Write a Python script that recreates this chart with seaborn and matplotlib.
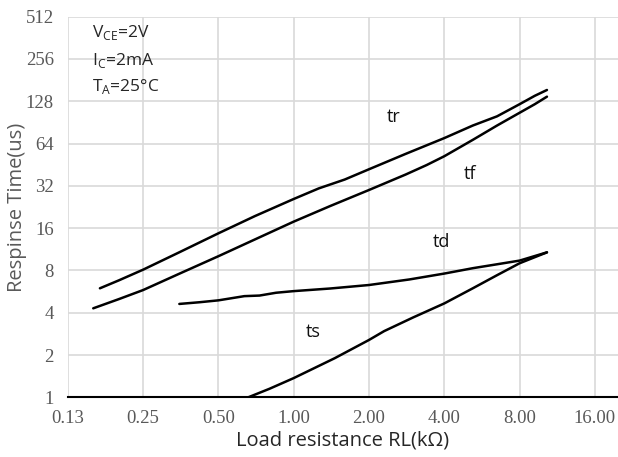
import numpy as np
import pandas as pd
import matplotlib
matplotlib.use("Agg")
import matplotlib.pyplot as plt
import seaborn as sns

# Data (x: load resistance kOhm, y: response time us)
tr_x = [0.168, 0.20, 0.25, 0.35, 0.50, 0.70, 1.00, 1.26, 1.60, 2.00, 2.80, 4.00, 5.20, 6.50, 8.00, 9.20, 10.29]
tr_y = [5.97, 6.8, 8.1, 10.8, 14.7, 19.5, 25.8, 30.7, 35.5, 42.0, 54.0, 70.0, 86.0, 100.0, 122.0, 140.0, 154.0]
tf_x = [0.158, 0.20, 0.25, 0.35, 0.50, 0.70, 1.00, 1.40, 2.00, 2.80, 3.40, 4.00, 5.20, 6.50, 8.00, 9.20, 10.29]
tf_y = [4.3, 5.0, 5.8, 7.6, 10.1, 13.3, 17.8, 23.0, 29.9, 38.5, 45.0, 52.0, 68.0, 86.0, 106.0, 122.0, 138.0]
td_x = [0.349, 0.42, 0.50, 0.635, 0.73, 0.85, 1.00, 1.40, 2.00, 2.90, 4.00, 5.20, 6.50, 8.00, 10.29]
td_y = [4.62, 4.75, 4.9, 5.25, 5.3, 5.55, 5.7, 5.95, 6.3, 6.9, 7.6, 8.3, 8.85, 9.4, 10.76]
ts_x = [0.658, 0.80, 1.00, 1.46, 2.00, 2.30, 3.00, 4.00, 5.20, 6.50, 8.00, 10.29]
ts_y = [1.0, 1.15, 1.37, 1.9, 2.56, 2.96, 3.7, 4.66, 5.97, 7.4, 9.0, 10.76]

series_names = ["tr", "tf", "td", "ts"]
label_pos_x = [2.52, 5.06, 3.89, 1.20]
label_pos_y = [99.0, 39.0, 12.7, 2.93]

x_ticks = [0.125, 0.25, 0.5, 1, 2, 4, 8, 16]
x_tick_labels = ["0.13", "0.25", "0.50", "1.00", "2.00", "4.00", "8.00", "16.00"]
y_ticks = [1, 2, 4, 8, 16, 32, 64, 128, 256, 512]
y_tick_labels = ["1", "2", "4", "8", "16", "32", "64", "128", "256", "512"]

frames = []
for name, xs, ys in zip(series_names, [tr_x, tf_x, td_x, ts_x], [tr_y, tf_y, td_y, ts_y]):
    frames.append(pd.DataFrame({"RL": xs, "t": ys, "series": name, "order": range(len(xs))}))
df = pd.concat(frames, ignore_index=True)

sns.set_theme(style="white")
fig = plt.figure(figsize=(6.18, 4.57), dpi=100)
ax = fig.add_axes([0.1097, 0.1306, 0.8903, 0.8329])

sns.lineplot(data=df, x="RL", y="t", units="series", estimator=None, sort=False,
             color="black", linewidth=1.8, ax=ax, legend=False)

ax.set_xscale("log", base=2)
ax.set_yscale("log", base=2)
ax.set_xlim(0.125, 0.125 * 2 ** (550.2 / 75.3))
ax.set_ylim(1, 512)
ax.set_xticks(x_ticks)
ax.set_xticklabels(x_tick_labels)
ax.set_yticks(y_ticks)
ax.set_yticklabels(y_tick_labels)
ax.minorticks_off()

ax.grid(True, color="#d9d9d9", linewidth=1.2)
ax.set_axisbelow(True)
for s in ["top", "right", "left"]:
    ax.spines[s].set_visible(False)
ax.spines["bottom"].set_color("black")
ax.spines["bottom"].set_linewidth(1.5)
ax.spines["bottom"].set_zorder(3)

tick_family = ["Liberation Serif", "DejaVu Serif"]
for lab in ax.get_xticklabels() + ax.get_yticklabels():
    lab.set_fontfamily(tick_family)
    lab.set_fontsize(13.5)
    lab.set_color("#595959")
ax.tick_params(axis="x", length=0, pad=9)
ax.tick_params(axis="y", length=0, pad=10)

ax.set_xlabel("Load resistance RL(kΩ)", fontsize=14.5, color="#262626",
              family=["Open Sans", "DejaVu Sans"], labelpad=3)
ax.set_ylabel("Respinse Time(us)", fontsize=14.5, color="#595959",
              family=["Open Sans", "DejaVu Sans"])
ax.yaxis.set_label_coords(-0.074, 0.5)

for name, lx, ly in zip(series_names, label_pos_x, label_pos_y):
    ax.text(lx, ly, name, fontsize=13, ha="center", va="center",
            family=["Open Sans", "DejaVu Sans"], color="#111111")

cond_font = ["Open Sans", "DejaVu Sans"]
fig.text(92 / 618, 1 - 33 / 457, r"V$_{\mathregular{CE}}$=2V", fontsize=12.5, va="center", family=cond_font)
fig.text(92 / 618, 1 - 60 / 457, r"I$_{\mathregular{C}}$=2mA", fontsize=12.5, va="center", family=cond_font)
fig.text(92 / 618, 1 - 86 / 457, r"T$_{\mathregular{A}}$=25°C", fontsize=12.5, va="center", family=cond_font)

fig.savefig("out.png", dpi=100)
